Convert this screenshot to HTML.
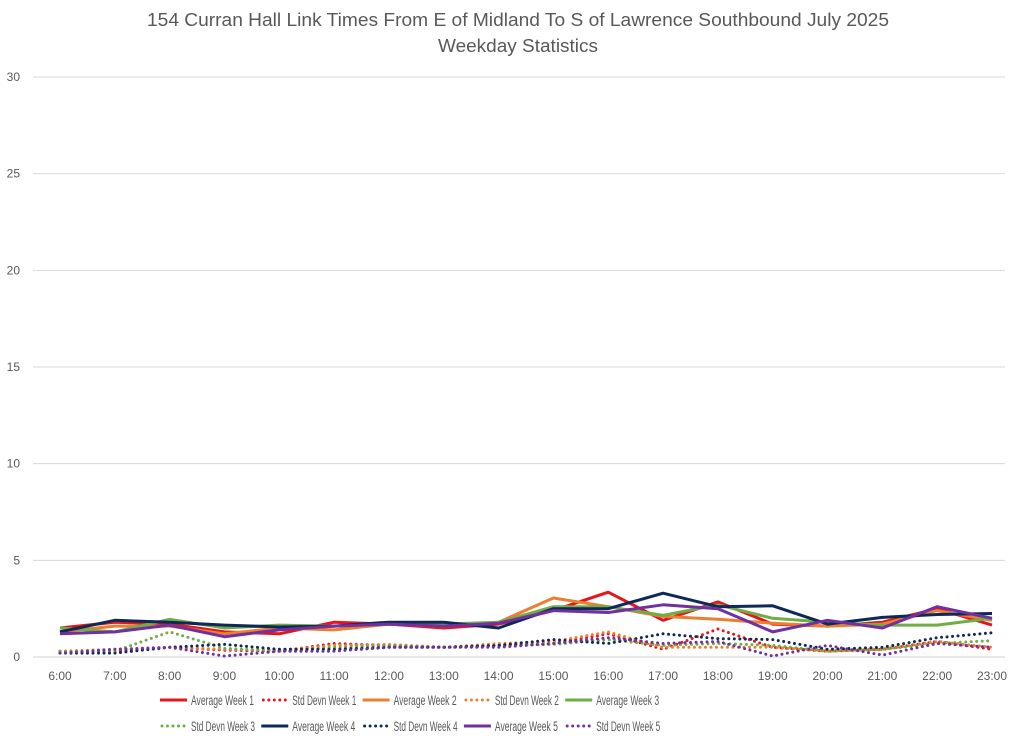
<!DOCTYPE html>
<html><head><meta charset="utf-8"><style>
body{margin:0;background:#fff;font-family:"Liberation Sans",sans-serif;}
svg{display:block}
</style></head><body>
<svg id="chart" width="1024" height="742" xmlns="http://www.w3.org/2000/svg">
<text x="147" y="26" font-size="18" fill="#595959" textLength="742" lengthAdjust="spacingAndGlyphs">154 Curran Hall Link Times From E of Midland To S of Lawrence Southbound July 2025</text>
<text x="438" y="52" font-size="18" fill="#595959" textLength="160" lengthAdjust="spacingAndGlyphs">Weekday Statistics</text>
<g id="grid"></g><g id="series"></g><g id="legend"></g>
</svg>
<script>
const categories=["6:00","7:00","8:00","9:00","10:00","11:00","12:00","13:00","14:00","15:00","16:00","17:00","18:00","19:00","20:00","21:00","22:00","23:00"];
const yTicks=[0,5,10,15,20,25,30];
const avg1=[1.5,1.8,1.7,1.3,1.2,1.8,1.7,1.5,1.7,2.4,3.35,1.9,2.85,1.7,1.6,1.8,2.5,1.65];
const sd1=[0.3,0.3,0.5,0.35,0.3,0.7,0.6,0.5,0.6,0.7,1.2,0.4,1.45,0.5,0.3,0.4,0.8,0.4];
const avg2=[1.3,1.6,1.6,1.2,1.5,1.4,1.7,1.6,1.8,3.05,2.6,2.1,1.95,1.75,1.6,1.7,2.4,1.9];
const sd2=[0.3,0.4,0.5,0.4,0.35,0.6,0.65,0.5,0.7,0.8,1.3,0.5,0.5,0.5,0.3,0.4,0.8,0.5];
const avg3=[1.5,1.3,1.95,1.5,1.65,1.6,1.7,1.7,1.8,2.6,2.6,2.15,2.7,2.0,1.8,1.65,1.65,2.0];
const sd3=[0.3,0.3,1.3,0.45,0.3,0.5,0.6,0.5,0.6,0.65,0.9,0.6,0.7,0.6,0.3,0.4,0.7,0.85];
const avg4=[1.3,1.9,1.8,1.65,1.55,1.6,1.8,1.8,1.5,2.5,2.5,3.3,2.6,2.65,1.7,2.05,2.2,2.25];
const sd4=[0.2,0.2,0.5,0.65,0.4,0.4,0.5,0.5,0.6,0.9,0.7,1.2,0.95,0.9,0.4,0.5,1.0,1.25];
const avg5=[1.2,1.3,1.65,1.05,1.4,1.6,1.7,1.6,1.75,2.4,2.3,2.7,2.5,1.3,1.9,1.5,2.6,2.0];
const sd5=[0.2,0.4,0.5,0.05,0.3,0.3,0.5,0.5,0.5,0.7,1.0,0.7,0.8,0.05,0.6,0.1,0.7,0.5];
const NS="http://www.w3.org/2000/svg";
const x=i=>60+i*(932/17);
const y=v=>657-v*(580/30);
function mk(t,a,p){const e=document.createElementNS(NS,t);for(const k in a)e.setAttribute(k,a[k]);p.appendChild(e);return e;}
const grid=document.getElementById('grid');
yTicks.forEach(v=>{
  const l=mk('line',{x1:33,x2:1005,y1:y(v),y2:y(v),stroke:v===0?'#d0d0d0':'#d9d9d9','stroke-width':1},grid);
  
  
  const t=mk('text',{x:20,y:y(v)+4,'text-anchor':'end','font-size':12,fill:'#595959'},grid);
  t.textContent=v;
  
  
});
categories.forEach((c,i)=>{
  const t=mk('text',{x:x(i),y:680,'text-anchor':'middle','font-size':12,fill:'#595959'},grid);
  t.textContent=c;
  
  
});
const series=[
 ["Average Week 1",avg1,'#e8141c',false],["Std Devn Week 1",sd1,'#e8141c',true],
 ["Average Week 2",avg2,'#ed7d31',false],["Std Devn Week 2",sd2,'#ed7d31',true],
 ["Average Week 3",avg3,'#70ad47',false],["Std Devn Week 3",sd3,'#70ad47',true],
 ["Average Week 4",avg4,'#0e2857',false],["Std Devn Week 4",sd4,'#0e2857',true],
 ["Average Week 5",avg5,'#7030a0',false],["Std Devn Week 5",sd5,'#7030a0',true]];
const sg=document.getElementById('series'),lg=document.getElementById('legend');
series.forEach((s,k)=>{
  const pts=s[1].map((v,i)=>x(i).toFixed(1)+','+y(v).toFixed(1)).join(' ');
  const a={points:pts,fill:'none',stroke:s[2],'stroke-width':3,'stroke-linejoin':'round'};
  if(s[3]){a['stroke-dasharray']='0 5.5';a['stroke-linecap']='round';}
  const p=mk('polyline',a,sg);
  
  
  const row=k<5?0:1,col=k%5;
  const lx=160+col*101.3,ly=row?730:704;
  const g=mk('g',{},lg);
  
  
  const la={x1:lx,x2:lx+27,y1:ly-4,y2:ly-4,stroke:s[2],'stroke-width':3};
  if(s[3]){la['stroke-dasharray']='0 5.5';la['stroke-linecap']='round';la.x1=lx+2;}
  mk('line',la,g);
  const t=mk('text',{x:lx+31,y:ly+1,'font-size':13.5,fill:'#595959',textLength:s[3]?64:63,lengthAdjust:'spacingAndGlyphs'},g);
  t.textContent=s[0];
});
</script>
</body></html>
